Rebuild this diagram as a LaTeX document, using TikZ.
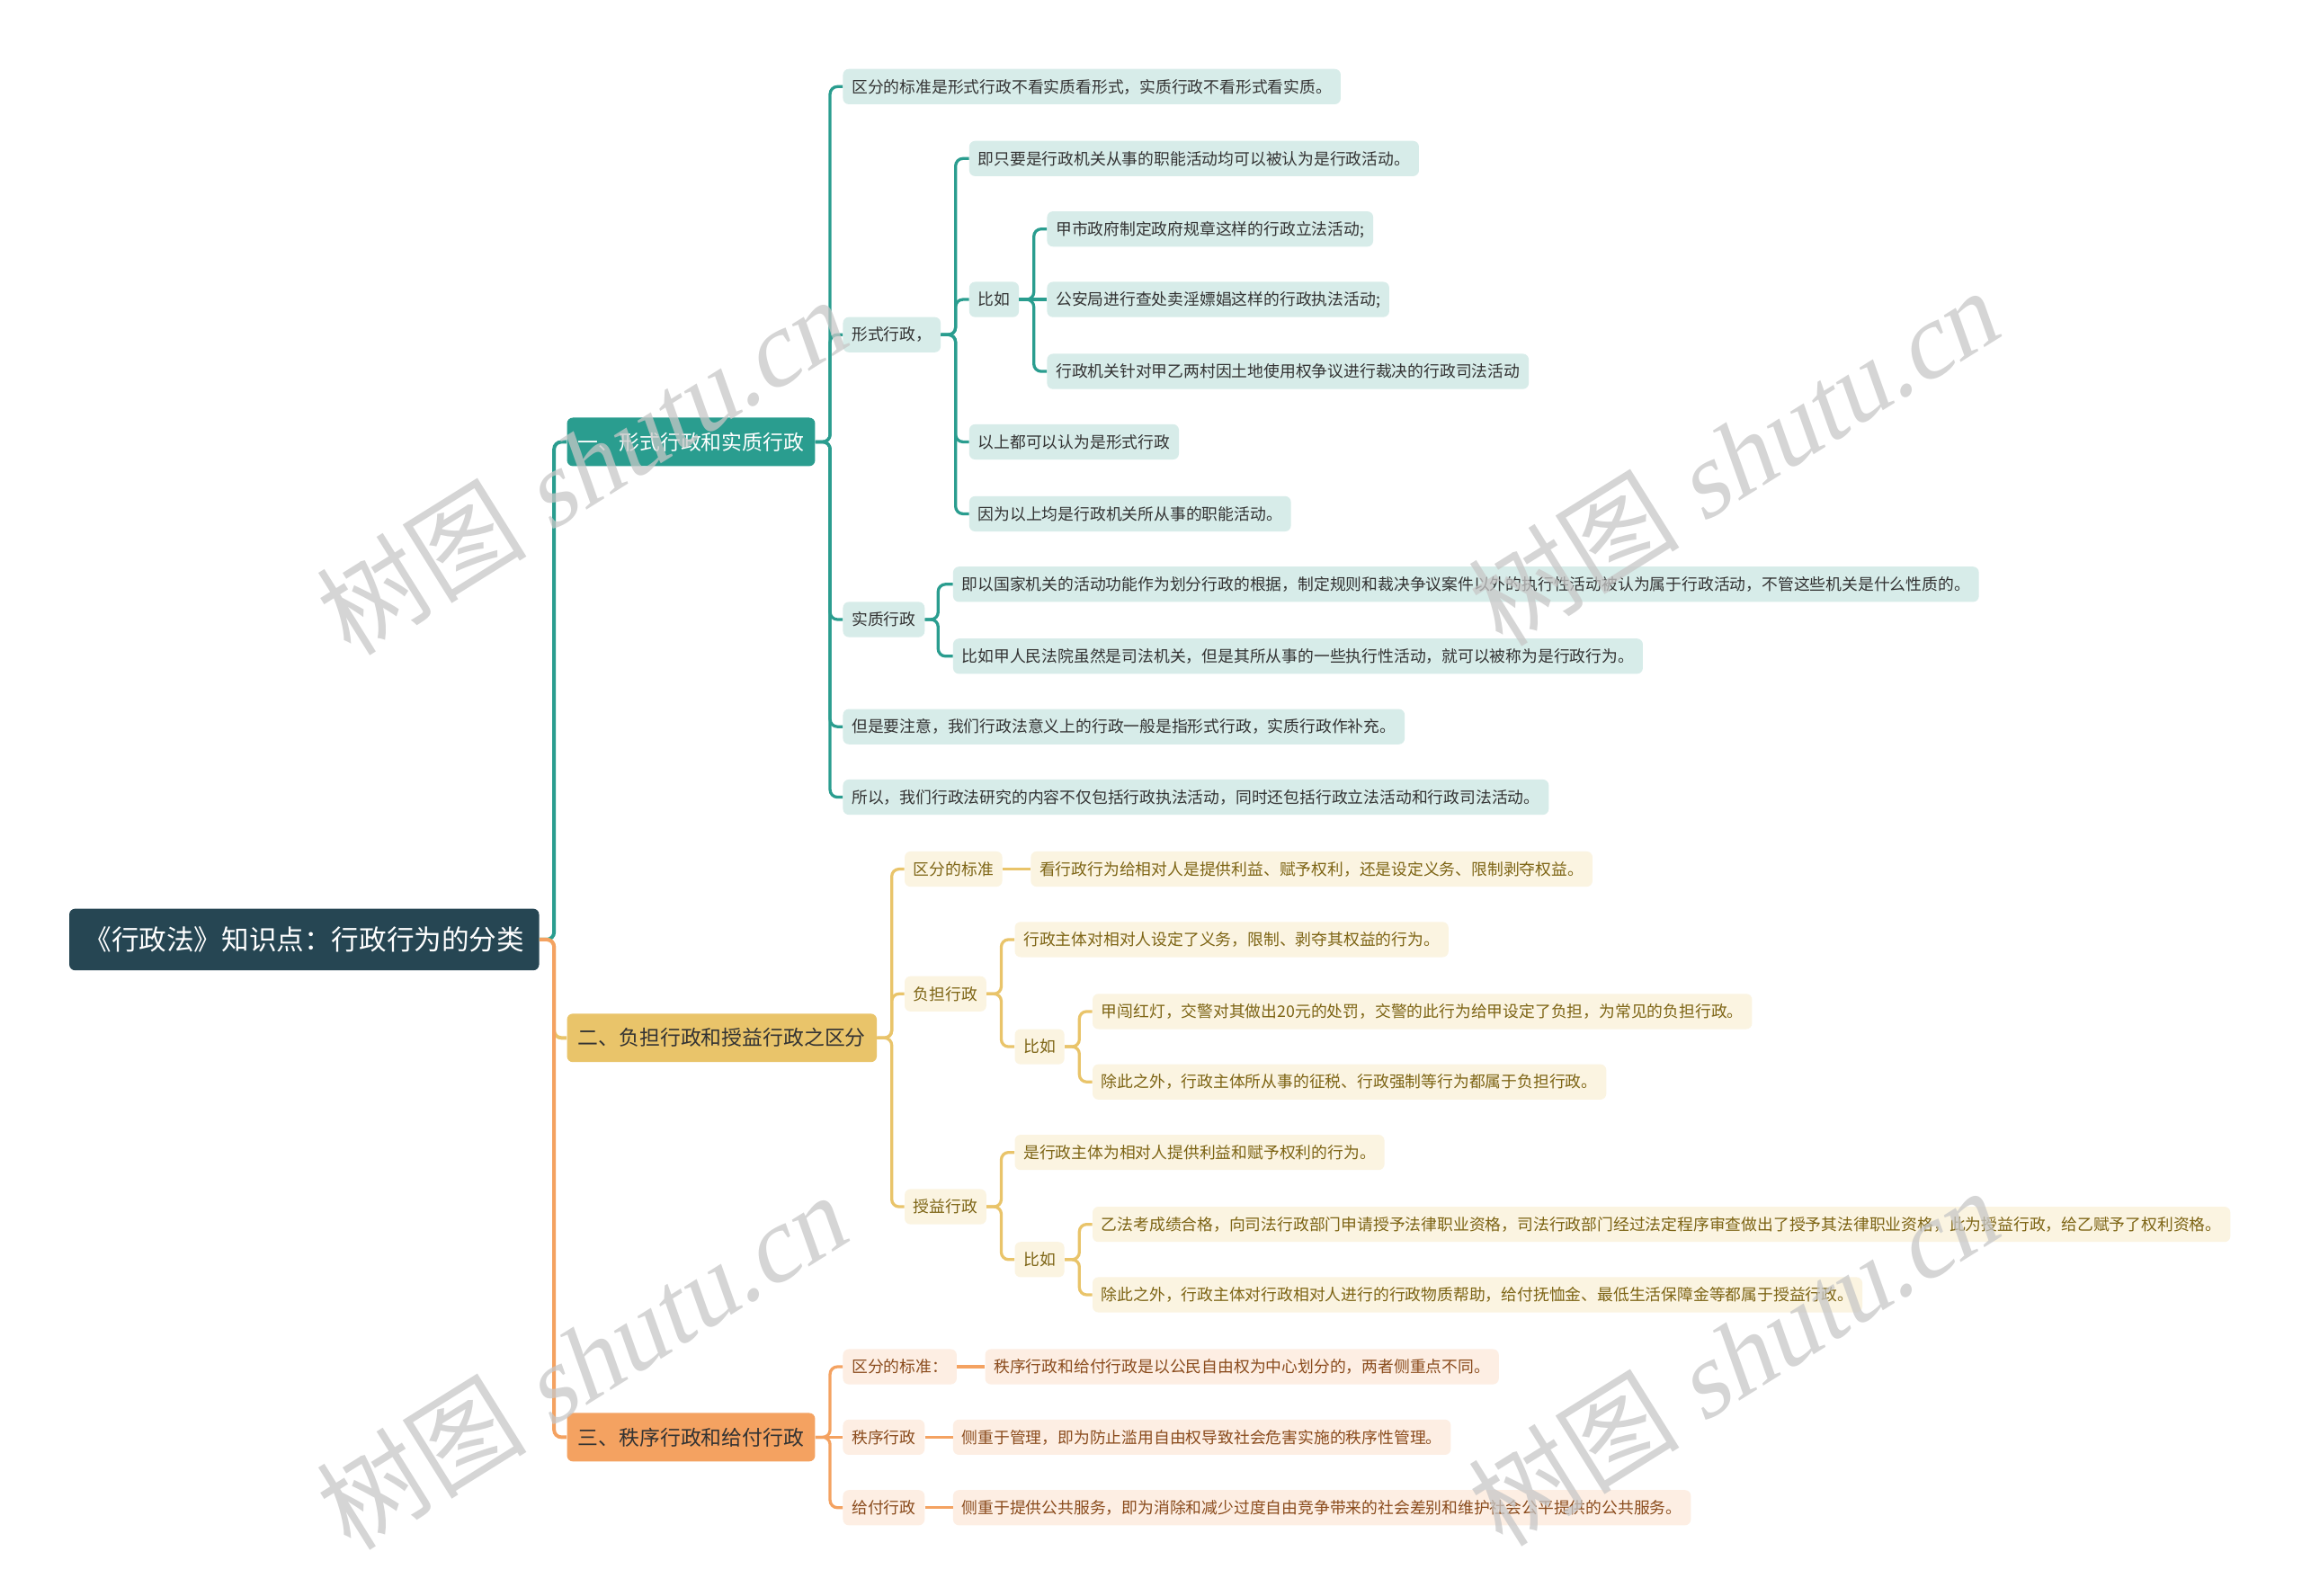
\documentclass[tikz,border=0pt]{standalone}
\usepackage{fontspec}
\setmainfont{Noto Sans CJK SC}
\newfontfamily\wmlatin{Liberation Serif}[FakeSlant=0.22]
\usetikzlibrary{positioning}
\definecolor{rootc}{HTML}{264653}
\definecolor{tealc}{HTML}{2A9D8F}
\definecolor{yelc}{HTML}{E9C46A}
\definecolor{orac}{HTML}{F4A261}
\definecolor{tealbg}{HTML}{D7ECE9}
\definecolor{yelbg}{HTML}{FBF4E1}
\definecolor{orabg}{HTML}{FDEEE3}
\definecolor{yeltx}{HTML}{7D6414}
\definecolor{oratx}{HTML}{8A4B1C}
\tikzset{
  rootbox/.style={rectangle, rounded corners=4pt, anchor=west, fill=rootc, text=white, minimum height=42pt, inner xsep=10pt, inner ysep=0pt, text height=16.4pt, text depth=2.2pt, font=\fontsize{18.75}{20}\selectfont},
  branch/.style={rectangle, rounded corners=4pt, anchor=west, fill=#1, minimum height=33pt, inner xsep=7.5pt, inner ysep=0pt, text height=12.3pt, text depth=1.7pt, font=\fontsize{14}{16}\selectfont},
  leaf/.style={rectangle, rounded corners=4pt, anchor=west, minimum height=24pt, inner xsep=6pt, inner ysep=0pt, text height=9.5pt, text depth=1.3pt, font=\fontsize{10.9}{12}\selectfont},
  leafA/.style={leaf, fill=tealbg, text=black!80},
  leafB/.style={leaf, fill=yelbg, text=yeltx},
  leafC/.style={leaf, fill=orabg, text=oratx},
  link/.style={line width=2pt, rounded corners=5pt, draw=#1},
  wmark/.style={text=black!22, opacity=0.75, rotate=32, font=\fontsize{72}{72}\selectfont}
}

\begin{document}
\begin{tikzpicture}[x=1pt, y=-1pt]

  \fill[white] (0,0) rectangle (1568,1087);
  \useasboundingbox (0,0) rectangle (1568,1087);

  \node (root) [rootbox] at (47,640) {《行政法》知识点：行政行为的分类};

  % branch one
  \node (a1) [branch=tealc, text=white] at (386,301) {一、形式行政和实质行政};
  \node (a11) [leafA] at (574,59) {区分的标准是形式行政不看实质看形式，实质行政不看形式看实质。};
  \node (a12) [leafA] at (574,228) {形式行政，};
  \node (a121) [leafA] at (660,108) {即只要是行政机关从事的职能活动均可以被认为是行政活动。};
  \node (a122) [leafA] at (660,204) {比如};
  \node (a1221) [leafA] at (713,156) {甲市政府制定政府规章这样的行政立法活动;};
  \node (a1222) [leafA] at (713,204) {公安局进行查处卖淫嫖娼这样的行政执法活动;};
  \node (a1223) [leafA] at (713,253) {行政机关针对甲乙两村因土地使用权争议进行裁决的行政司法活动};
  \node (a123) [leafA] at (660,301) {以上都可以认为是形式行政};
  \node (a124) [leafA] at (660,350) {因为以上均是行政机关所从事的职能活动。};
  \node (a13) [leafA] at (574,422) {实质行政};
  \node (a131) [leafA] at (649,398) {即以国家机关的活动功能作为划分行政的根据，制定规则和裁决争议案件以外的执行性活动被认为属于行政活动，不管这些机关是什么性质的。};
  \node (a132) [leafA] at (649,447) {比如甲人民法院虽然是司法机关，但是其所从事的一些执行性活动，就可以被称为是行政行为。};
  \node (a14) [leafA] at (574,495) {但是要注意，我们行政法意义上的行政一般是指形式行政，实质行政作补充。};
  \node (a15) [leafA] at (574,543) {所以，我们行政法研究的内容不仅包括行政执法活动，同时还包括行政立法活动和行政司法活动。};

  % branch two
  \node (b1) [branch=yelc, text=black!80] at (386,707) {二、负担行政和授益行政之区分};
  \node (b11) [leafB] at (616,592) {区分的标准};
  \node (b11x) [leafB, right=19pt of b11] {看行政行为给相对人是提供利益、赋予权利，还是设定义务、限制剥夺权益。};
  \node (b12) [leafB] at (616,677) {负担行政};
  \node (b121) [leafB] at (691,640) {行政主体对相对人设定了义务，限制、剥夺其权益的行为。};
  \node (b122) [leafB] at (691,713) {比如};
  \node (b1221) [leafB] at (744,689) {甲闯红灯，交警对其做出20元的处罚，交警的此行为给甲设定了负担，为常见的负担行政。};
  \node (b1222) [leafB] at (744,737) {除此之外，行政主体所从事的征税、行政强制等行为都属于负担行政。};
  \node (b13) [leafB] at (616,822) {授益行政};
  \node (b131) [leafB] at (691,785) {是行政主体为相对人提供利益和赋予权利的行为。};
  \node (b132) [leafB] at (691,858) {比如};
  \node (b1321) [leafB] at (744,834) {乙法考成绩合格，向司法行政部门申请授予法律职业资格，司法行政部门经过法定程序审查做出了授予其法律职业资格，此为授益行政，给乙赋予了权利资格。};
  \node (b1322) [leafB] at (744,882) {除此之外，行政主体对行政相对人进行的行政物质帮助，给付抚恤金、最低生活保障金等都属于授益行政。};

  % branch three
  \node (c1) [branch=orac, text=black!80] at (386,979) {三、秩序行政和给付行政};
  \node (c11) [leafC] at (574,931) {区分的标准：};
  \node (c11x) [leafC, right=19pt of c11] {秩序行政和给付行政是以公民自由权为中心划分的，两者侧重点不同。};
  \node (c12) [leafC] at (574,979) {秩序行政};
  \node (c12x) [leafC, right=19pt of c12] {侧重于管理，即为防止滥用自由权导致社会危害实施的秩序性管理。};
  \node (c13) [leafC] at (574,1027) {给付行政};
  \node (c13x) [leafC, right=19pt of c13] {侧重于提供公共服务，即为消除和减少过度自由竞争带来的社会差别和维护社会公平提供的公共服务。};

  % root links
  \draw [link=tealc, line width=2.4pt] (root.east) -- ++(10,0) |- (a1.west);
  \draw [link=yelc, line width=2.4pt] (root.east) -- ++(10,0) |- (b1.west);
  \draw [link=orac, line width=2.4pt] (root.east) -- ++(10,0) |- (c1.west);

  \draw [link=tealc] (a1.east) -- ++(10,0) |- (a11.west);
  \draw [link=tealc] (a1.east) -- ++(10,0) |- (a12.west);
  \draw [link=tealc] (a1.east) -- ++(10,0) |- (a13.west);
  \draw [link=tealc] (a1.east) -- ++(10,0) |- (a14.west);
  \draw [link=tealc] (a1.east) -- ++(10,0) |- (a15.west);
  \draw [link=tealc] (a12.east) -- ++(10,0) |- (a121.west);
  \draw [link=tealc] (a12.east) -- ++(10,0) |- (a122.west);
  \draw [link=tealc] (a12.east) -- ++(10,0) |- (a123.west);
  \draw [link=tealc] (a12.east) -- ++(10,0) |- (a124.west);
  \draw [link=tealc] (a122.east) -- ++(10,0) |- (a1221.west);
  \draw [link=tealc] (a122.east) -- (a1222.west);
  \draw [link=tealc] (a122.east) -- ++(10,0) |- (a1223.west);
  \draw [link=tealc] (a13.east) -- ++(9,0) |- (a131.west);
  \draw [link=tealc] (a13.east) -- ++(9,0) |- (a132.west);

  \draw [link=yelc] (b1.east) -- ++(10,0) |- (b11.west);
  \draw [link=yelc] (b1.east) -- ++(10,0) |- (b12.west);
  \draw [link=yelc] (b1.east) -- ++(10,0) |- (b13.west);
  \draw [link=yelc] (b11.east) -- (b11x.west);
  \draw [link=yelc] (b12.east) -- ++(10,0) |- (b121.west);
  \draw [link=yelc] (b12.east) -- ++(10,0) |- (b122.west);
  \draw [link=yelc] (b122.east) -- ++(10,0) |- (b1221.west);
  \draw [link=yelc] (b122.east) -- ++(10,0) |- (b1222.west);
  \draw [link=yelc] (b13.east) -- ++(10,0) |- (b131.west);
  \draw [link=yelc] (b13.east) -- ++(10,0) |- (b132.west);
  \draw [link=yelc] (b132.east) -- ++(10,0) |- (b1321.west);
  \draw [link=yelc] (b132.east) -- ++(10,0) |- (b1322.west);

  \draw [link=orac] (c1.east) -- ++(10,0) |- (c11.west);
  \draw [link=orac] (c1.east) -- (c12.west);
  \draw [link=orac] (c1.east) -- ++(10,0) |- (c13.west);
  \draw [link=orac] (c11.east) -- (c11x.west);
  \draw [link=orac] (c12.east) -- (c12x.west);
  \draw [link=orac] (c13.east) -- (c13x.west);

  % watermarks
  \node (wm1) [wmark] at (395,318) {树图 {\wmlatin shutu.cn}};
  \node (wm2) [wmark] at (1180,312) {树图 {\wmlatin shutu.cn}};
  \node (wm3) [wmark] at (395,928) {树图 {\wmlatin shutu.cn}};
  \node (wm4) [wmark] at (1180,925) {树图 {\wmlatin shutu.cn}};

\end{tikzpicture}
\end{document}
